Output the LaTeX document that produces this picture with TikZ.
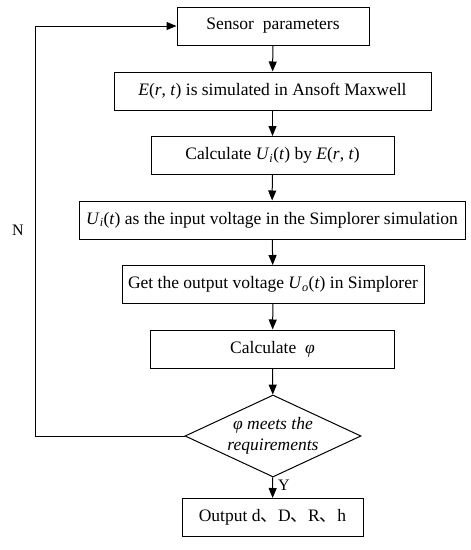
\documentclass[tikz,border=0pt]{standalone}
\usepackage{fontspec}
\setmainfont{Liberation Serif}
\newfontfamily\cjk{Noto Sans CJK SC}
\usetikzlibrary{shapes.geometric,arrows.meta}
\tikzset{
  stepbox/.style={draw,line width=1pt,rectangle,inner sep=0pt,minimum height=38pt,font=\fontsize{17.5}{21}\selectfont},
  decide/.style={draw,line width=1pt,diamond,aspect=2.15,inner sep=0pt,minimum width=176pt,minimum height=82pt,font=\fontsize{17.5}{21}\selectfont\itshape,align=center},
  flow/.style={line width=1pt,-{Triangle[length=10pt,width=8pt]}},
  lbl/.style={font=\fontsize{16}{18}\selectfont,inner sep=0pt}
}
\begin{document}
\begin{tikzpicture}[x=1pt,y=-1pt]
\useasboundingbox (0,0) rectangle (471,550);
\node[stepbox,minimum width=192pt] (b1) at (273,26) {Sensor\ \ parameters};
\node[stepbox,minimum width=317pt] (b2) at (272.5,91) {\textit{E}(\textit{r}, \textit{t}) is simulated in Ansoft Maxwell};
\node[stepbox,minimum width=243pt] (b3) at (272.5,155.5) {Calculate \textit{U}\textsubscript{\textit{i}}(\textit{t}) by \textit{E}(\textit{r}, \textit{t})};
\node[stepbox,minimum width=386pt] (b4) at (272,220) {\textit{U}\textsubscript{\textit{i}}(\textit{t}) as the input voltage in the Simplorer simulation};
\node[stepbox,minimum width=302pt] (b5) at (273,284.5) {Get the output voltage \textit{U}\textsubscript{\textit{o}}(\textit{t}) in Simplorer};
\node[stepbox,minimum width=244pt] (b6) at (272.5,349) {Calculate\ \ \textit{φ}};
\node[decide] (d) at (273,436) {φ meets the\\requirements};
\node[stepbox,minimum width=181pt] (b7) at (272.5,517.5) {Output d{\cjk 、}D{\cjk 、}R{\cjk 、}h};
\coordinate (c1) at (35,436);
\coordinate (c2) at (35,26);
\draw[flow] (b1) -- (b2);
\draw[flow] (b2) -- (b3);
\draw[flow] (b3) -- (b4);
\draw[flow] (b4) -- (b5);
\draw[flow] (b5) -- (b6);
\draw[flow] (b6) -- (d);
\draw[flow] (d) -- (b7);
\draw[flow] (d.west) -- (c1) -- (c2) -- (b1.west);
\node[lbl] (n) at (18,230) {N};
\node[lbl] (y) at (284,485) {Y};
\end{tikzpicture}
\end{document}
